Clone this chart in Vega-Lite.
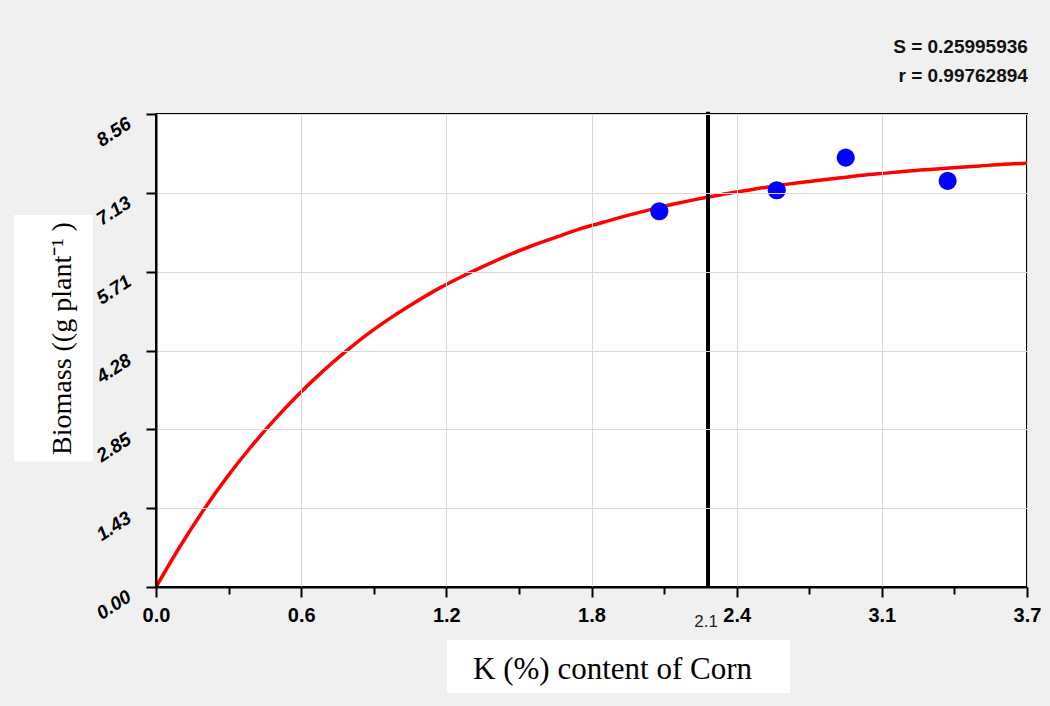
{
  "$schema": "https://vega.github.io/schema/vega-lite/v6.json",
  "autosize": "none",
  "width": 871,
  "height": 473,
  "padding": {"left": 156, "top": 114, "right": 23, "bottom": 119},
  "background": "#f0f0f0",
  "title": {
    "text": ["S = 0.25995936", "r = 0.99762894"],
    "anchor": "end",
    "font": "Liberation Sans",
    "fontSize": 19,
    "fontWeight": "bold",
    "color": "#111111",
    "lineHeight": 29,
    "offset": 24,
    "dx": -13
  },
  "config": {
    "view": {"fill": "white", "stroke": "black", "strokeWidth": 2}
  },
  "datasets": {
    "fit": [
      {"K": 0.0, "Biomass": 0.0},
      {"K": 0.1, "Biomass": 0.72},
      {"K": 0.2, "Biomass": 1.38},
      {"K": 0.3, "Biomass": 1.98},
      {"K": 0.4, "Biomass": 2.52},
      {"K": 0.5, "Biomass": 3.01},
      {"K": 0.6, "Biomass": 3.46},
      {"K": 0.7, "Biomass": 3.87},
      {"K": 0.8, "Biomass": 4.24},
      {"K": 0.9, "Biomass": 4.58},
      {"K": 1.0, "Biomass": 4.88},
      {"K": 1.1, "Biomass": 5.15},
      {"K": 1.2, "Biomass": 5.4},
      {"K": 1.3, "Biomass": 5.62},
      {"K": 1.4, "Biomass": 5.82},
      {"K": 1.5, "Biomass": 6.01},
      {"K": 1.6, "Biomass": 6.18},
      {"K": 1.7, "Biomass": 6.33},
      {"K": 1.8, "Biomass": 6.48},
      {"K": 1.9, "Biomass": 6.6},
      {"K": 2.0, "Biomass": 6.72},
      {"K": 2.1, "Biomass": 6.83},
      {"K": 2.2, "Biomass": 6.93},
      {"K": 2.3, "Biomass": 7.02},
      {"K": 2.4, "Biomass": 7.1},
      {"K": 2.5, "Biomass": 7.17},
      {"K": 2.6, "Biomass": 7.24},
      {"K": 2.7, "Biomass": 7.3},
      {"K": 2.8, "Biomass": 7.35},
      {"K": 2.9, "Biomass": 7.4},
      {"K": 3.0, "Biomass": 7.45},
      {"K": 3.1, "Biomass": 7.49},
      {"K": 3.2, "Biomass": 7.53},
      {"K": 3.3, "Biomass": 7.56},
      {"K": 3.4, "Biomass": 7.59},
      {"K": 3.5, "Biomass": 7.62},
      {"K": 3.6, "Biomass": 7.65},
      {"K": 3.7, "Biomass": 7.67}
    ],
    "observed": [
      {"K": 2.138, "Biomass": 6.8},
      {"K": 2.637, "Biomass": 7.18},
      {"K": 2.93, "Biomass": 7.77},
      {"K": 3.363, "Biomass": 7.35}
    ],
    "one": [{"label": "2.1"}]
  },
  "layer": [
    {
      "data": {"name": "fit"},
      "mark": {"type": "line", "color": "#ff0000", "strokeWidth": 3.5, "interpolate": "monotone"},
      "encoding": {
        "x": {
          "field": "K",
          "type": "quantitative",
          "scale": {"domain": [0, 3.7], "nice": false},
          "axis": {
            "zindex": 1,
            "title": "K (%) content of Corn",
            "titleFont": "Liberation Serif",
            "titleFontWeight": "normal",
            "titleColor": "black",
            "titleFontSize": 31,
            "titleX": 456,
            "titleY": 91,
            "titleBaseline": "alphabetic",
            "values": [0, 0.154167, 0.308333, 0.4625, 0.616667, 0.770833, 0.925, 1.079167, 1.233333, 1.3875, 1.541667, 1.695833, 1.85, 2.004167, 2.158333, 2.3125, 2.466667, 2.620833, 2.775, 2.929167, 3.083333, 3.2375, 3.391667, 3.545833, 3.7],
            "labelExpr": "abs(datum.value/0.616667 - round(datum.value/0.616667)) < 0.01 ? ['0.0','0.6','1.2','1.8','2.4','3.1','3.7'][round(datum.value/0.616667)] : ''",
            "labelFont": "Liberation Sans",
            "labelFontSize": 20,
            "labelFontWeight": "bold",
            "labelColor": "black",
            "labelPadding": 8,
            "labelFlush": false,
            "labelOverlap": false,
            "domainColor": "black",
            "domainWidth": 2,
            "tickColor": "black",
            "tickWidth": 2,
            "tickSize": {"condition": {"test": "abs(datum.value/0.616667 - round(datum.value/0.616667)) < 0.01", "value": 10}, "value": 7},
            "grid": true,
            "gridWidth": 1,
            "gridColor": {"condition": {"test": "abs(datum.value/0.616667 - round(datum.value/0.616667)) < 0.01", "value": "#d9d9d9"}, "value": "rgba(0,0,0,0)"}
          }
        },
        "y": {
          "field": "Biomass",
          "type": "quantitative",
          "scale": {"domain": [0, 8.56], "nice": false},
          "axis": {
            "zindex": 1,
            "title": "Biomass ((g plant⁻¹ )",
            "titleFont": "Liberation Serif",
            "titleFontWeight": "normal",
            "titleColor": "black",
            "titleFontSize": 28,
            "titleX": -94,
            "titleY": 224,
            "titleAngle": -90,
            "titleAlign": "center",
            "titleBaseline": "middle",
            "values": [0, 0.356667, 0.713333, 1.07, 1.426667, 1.783333, 2.14, 2.496667, 2.853333, 3.21, 3.566667, 3.923333, 4.28, 4.636667, 4.993333, 5.35, 5.706667, 6.063333, 6.42, 6.776667, 7.133333, 7.49, 7.846667, 8.203333, 8.56],
            "labelExpr": "abs(datum.value/1.426667 - round(datum.value/1.426667)) < 0.01 ? format(datum.value, '.2f') : ''",
            "labelFont": "Liberation Sans",
            "labelFontSize": 19,
            "labelFontWeight": "bold",
            "labelFontStyle": "italic",
            "labelColor": "black",
            "labelAngle": -33,
            "labelAlign": "right",
            "labelBaseline": "top",
            "labelPadding": 22,
            "labelFlush": false,
            "labelOverlap": false,
            "domainColor": "black",
            "domainWidth": 2,
            "tickColor": "black",
            "tickWidth": 2,
            "tickSize": {"condition": {"test": "abs(datum.value/1.426667 - round(datum.value/1.426667)) < 0.01", "value": 10}, "value": 7},
            "grid": true,
            "gridWidth": 1,
            "gridColor": {"condition": {"test": "abs(datum.value/1.426667 - round(datum.value/1.426667)) < 0.01", "value": "#d9d9d9"}, "value": "rgba(0,0,0,0)"}
          }
        }
      }
    },
    {
      "data": {"name": "one"},
      "mark": {"type": "rect", "color": "white"},
      "encoding": {
        "x": {"datum": -0.603, "type": "quantitative"},
        "x2": {"datum": -0.268},
        "y": {"datum": 6.73, "type": "quantitative"},
        "y2": {"datum": 2.27}
      }
    },
    {
      "data": {"name": "one"},
      "mark": {"type": "rect", "color": "white"},
      "encoding": {
        "x": {"datum": 1.236, "type": "quantitative"},
        "x2": {"datum": 2.693},
        "y": {"datum": -0.959, "type": "quantitative"},
        "y2": {"datum": -1.918}
      }
    },
    {
      "data": {"name": "one"},
      "mark": {"type": "rule", "color": "black", "strokeWidth": 4},
      "encoding": {
        "x": {"datum": 2.345, "type": "quantitative"},
        "y": {"datum": 8.6, "type": "quantitative"},
        "y2": {"datum": 0}
      }
    },
    {
      "data": {"name": "one"},
      "mark": {"type": "text", "font": "Liberation Sans", "fontSize": 17, "color": "#222222", "baseline": "middle", "align": "center", "dy": 35, "dx": -2},
      "encoding": {
        "x": {"datum": 2.345, "type": "quantitative"},
        "y": {"datum": 0, "type": "quantitative"},
        "text": {"field": "label"}
      }
    },
    {
      "data": {"name": "observed"},
      "mark": {"type": "point", "filled": true, "color": "#0000ff", "opacity": 1, "size": 330},
      "encoding": {
        "x": {"field": "K", "type": "quantitative"},
        "y": {"field": "Biomass", "type": "quantitative"}
      }
    }
  ]
}
